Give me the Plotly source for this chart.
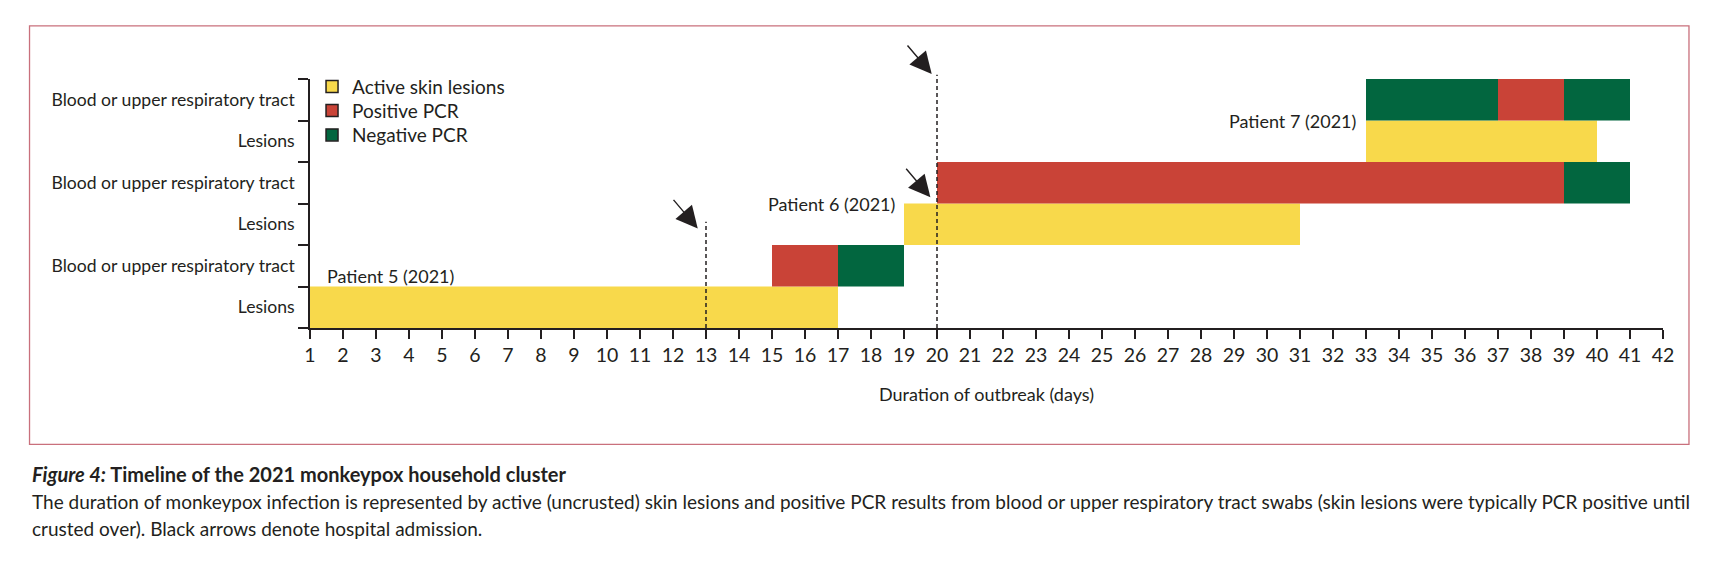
import plotly.graph_objects as go

# ---------------- data ----------------
days = list(range(1, 43))
row_labels = ["Lesions", "Blood or upper respiratory tract",
              "Lesions", "Blood or upper respiratory tract",
              "Lesions", "Blood or upper respiratory tract"]
row_centers = [0.5, 1.5, 2.5, 3.5, 4.5, 5.5]

# segments: (row index, start day, end day)
lesion_rows = [0, 2, 4]
lesion_start = [1, 19, 33]
lesion_end = [17, 31, 40]

pos_rows = [1, 3, 5]
pos_start = [15, 20, 37]
pos_end = [17, 39, 39]

neg_rows = [1, 3, 5, 5]
neg_start = [17, 39, 33, 39]
neg_end = [19, 41, 37, 41]

patients = ["Patient 5 (2021)", "Patient 6 (2021)", "Patient 7 (2021)"]
admission_day = [13, 20, 20]          # black arrows: hospital admission

categories = ["Active skin lesions", "Positive PCR", "Negative PCR"]
colors = ["#F8D94B", "#C94337", "#02663F"]

FONT = "Lato, 'Open Sans', sans-serif"
INK = "#231f20"
N_ROWS = 6

fig = go.Figure()

def add_segments(rows, starts, ends, color, name):
    fig.add_trace(go.Bar(
        orientation="h",
        y=[row_centers[r] for r in rows],
        base=starts,
        x=[e - s for s, e in zip(starts, ends)],
        width=1,
        marker=dict(color=color, line=dict(width=0)),
        name=name, showlegend=False, hoverinfo="skip"))

add_segments(lesion_rows, lesion_start, lesion_end, colors[0], categories[0])
add_segments(pos_rows, pos_start, pos_end, colors[1], categories[1])
add_segments(neg_rows, neg_start, neg_end, colors[2], categories[2])

# legend entries (black outlined swatches), one legend per entry for spacing
legend_ids = ["legend", "legend2", "legend3"]
for name, col, lid in zip(categories, colors, legend_ids):
    fig.add_trace(go.Bar(orientation="h", x=[None], y=[None], name=name,
                         marker=dict(color=col, line=dict(color=INK, width=1.5)),
                         showlegend=True, legend=lid))

# ---------------- annotations ----------------
annotations = []
label_pos = [  # (x, y, xanchor)
    (1.45, 1.26, "left"),
    (18.8, 2.98, "right"),
    (32.75, 4.99, "right"),
]
for txt, (lx, ly, anc) in zip(patients, label_pos):
    annotations.append(dict(x=lx, y=ly, xref="x", yref="y", text=txt,
                            showarrow=False, xanchor=anc, yanchor="middle",
                            font=dict(size=18, color=INK, family=FONT)))

# admission arrows (tip position; tail offset in pixels)
arrow_tip_row = [2.40, 3.15, 6.12]
arrow_tip_dx = [-0.25, -0.2, -0.16]
line_top_row = [2.56, None, 6.10]
for d, tr, dx in zip(admission_day, arrow_tip_row, arrow_tip_dx):
    annotations.append(dict(x=d + dx, y=tr / N_ROWS, xref="x", yref="paper",
                            ax=-25.5, ay=-30, axref="pixel", ayref="pixel",
                            text="", showarrow=True, arrowhead=2, arrowsize=3.1,
                            arrowwidth=1.4, arrowcolor=INK, standoff=0))

shapes = []
for d, top in zip(admission_day, line_top_row):
    if top is None:
        continue
    shapes.append(dict(type="line", xref="x", yref="paper", x0=d, x1=d,
                       y0=0, y1=top / N_ROWS,
                       line=dict(color=INK, width=1.5, dash="4px,3px")))

# pink frame
shapes.append(dict(type="rect", xref="paper", yref="paper",
                   x0=-0.2073, x1=1.0192, y0=-0.4676, y1=1.2131,
                   line=dict(color="#C9707C", width=1.3), layer="below"))

# caption
cap_lines = [
    "<b><i>Figure 4:</i> Timeline of the 2021 monkeypox household cluster</b>",
    "The duration of monkeypox infection is represented by active (uncrusted) skin lesions and positive PCR results from blood or upper respiratory tract swabs (skin lesions were typically PCR positive until",
    "crusted over). Black arrows denote hospital admission.",
]
cap_size = [20, 19, 19]
cap_y = [-0.588, -0.6975, -0.807]
for t, yy, fs in zip(cap_lines, cap_y, cap_size):
    annotations.append(dict(x=-0.2069, y=yy, xref="paper", yref="paper",
                            text=t, showarrow=False, xanchor="left",
                            yanchor="middle", align="left",
                            font=dict(size=fs, color=INK, family=FONT)))

legend_y = [0.969, 0.8725, 0.775]
legend_common = dict(x=0.0015, xanchor="left", yanchor="middle",
                     bgcolor="rgba(0,0,0,0)",
                     font=dict(size=19, family=FONT, color=INK))

fig.update_layout(
    width=1714, height=554,
    margin=dict(l=302, r=59, t=71, b=234, pad=0),
    paper_bgcolor="white", plot_bgcolor="white",
    barmode="overlay",
    font=dict(family=FONT, size=18, color=INK),
    showlegend=True,
    legend=dict(y=legend_y[0], **legend_common),
    legend2=dict(y=legend_y[1], **legend_common),
    legend3=dict(y=legend_y[2], **legend_common),
    xaxis=dict(range=[1, 42], tickmode="array", tickvals=days,
               ticktext=[str(d) for d in days],
               showline=True, linecolor=INK, linewidth=1.5,
               ticks="outside", ticklen=9, tickwidth=1.5, tickcolor=INK,
               tickfont=dict(size=19.5, family=FONT, color=INK),
               showgrid=False, zeroline=False,
               title=dict(text="Duration of outbreak (days)", standoff=23,
                          font=dict(size=18, family=FONT, color=INK))),
    yaxis=dict(range=[0, N_ROWS], tickmode="array", tickvals=row_centers,
               ticktext=row_labels, ticks="",
               minor=dict(tickmode="array", tickvals=list(range(N_ROWS + 1)),
                          ticks="outside", ticklen=10, tickwidth=1.5,
                          tickcolor=INK, showgrid=False),
               ticklabelstandoff=10,
               showline=True, linecolor=INK, linewidth=1.5,
               tickfont=dict(size=17.6, family=FONT, color=INK),
               showgrid=False, zeroline=False, fixedrange=True),
    annotations=annotations,
    shapes=shapes,
)

fig.write_html("out.html")
